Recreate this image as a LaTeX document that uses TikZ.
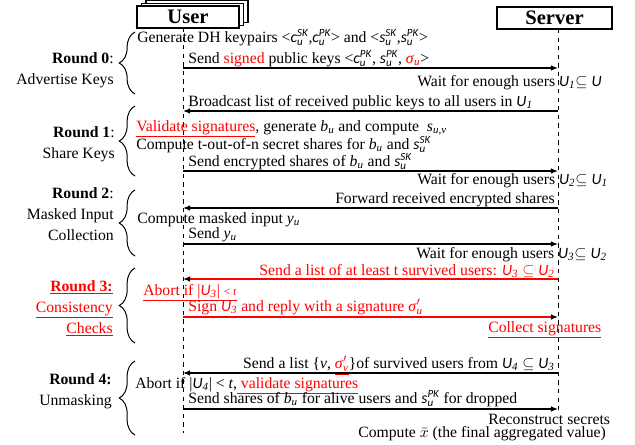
\documentclass[tikz,border=0pt]{standalone}
\usepackage{fontspec}
\usepackage{amsmath}
\setmainfont{Liberation Serif}
\newfontfamily\symfam{Carlito}
\usetikzlibrary{arrows.meta,decorations.pathreplacing}

% symbols of the protocol
\newcommand{\symv}[1]{{\symfam\itshape #1}}
\newcommand{\keyv}[3]{\symv{#1}$_{\text{\symv{#2}}}^{\text{\symv{#3}}}$}
\newcommand{\uset}[1]{\symv{U}$_{\text{\itshape #1}}$}
\newcommand{\ivar}[2]{\textit{#1}$_{\text{\itshape #2}}$}
\newcommand{\redul}[1]{\textcolor{red}{\underline{#1}}}

\begin{document}
\begin{tikzpicture}[x=0.7pt,y=-0.7pt,
    font=\fontsize{11}{14.7}\selectfont,
    txt/.style={inner sep=0pt,anchor=base west},
    txtr/.style={inner sep=0pt,anchor=base east},
    lbl/.style={inner sep=0pt,anchor=base east,align=right},
    party/.style={draw,fill=white,line width=0.8pt,minimum height=15.4pt,inner sep=0pt,
        font=\fontsize{14.4}{16}\selectfont\bfseries},
    life/.style={dashed,line width=0.7pt},
    msg/.style={line width=0.9pt,-{Latex[length=5pt,width=4pt]}},
    redmsg/.style={msg,red,-{Latex[length=5pt,width=4pt,color=black]}},
    brc/.style={decorate,decoration={brace,amplitude=11pt},line width=0.7pt}
]
\useasboundingbox (0,0) rectangle (635,444);

% parties
\foreach \d in {2,1}
    \node[party,minimum width=71.4pt] at (188+\d*4.5,17-\d*2.75) {};
\node[party,minimum width=71.4pt] (user) at (188,17) {User};
\node[party,minimum width=80.5pt] (server) at (554.5,18) {Server};

% lifelines
\coordinate (ut) at (183,28);
\coordinate (ub) at (183,433);
\coordinate (st) at (558,29);
\coordinate (sb) at (558,412);
\draw[life] (ut) -- (ub);
\draw[life] (st) -- (sb);

% rounds (base = last line)
\node[lbl] (r0) at (114,84) {\textbf{Round 0}:\\Advertise Keys};
\node[lbl] (r1) at (115,158) {\textbf{Round 1}:\\Share Keys};
\node[lbl] (r2) at (114,240) {\textbf{Round 2}:\\Masked Input\\Collection};
\node[lbl,red] (r3) at (113,333) {\underline{\textbf{Round 3:}}\\\underline{Consistency}\\\underline{Checks}};
\node[lbl] (r4) at (112,405) {\textbf{Round 4:}\\Unmasking};
\draw[brc] (135,94) -- (135,32);
\draw[brc] (135,176) -- (135,106);
\draw[brc] (135,256) -- (135,190);
\draw[brc] (135,343) -- (135,268);
\draw[brc] (135,435) -- (135,361);

% round 0
\node[txt] (t0) at (137,42) {Generate DH keypairs <\keyv{c}{u}{SK},\keyv{c}{u}{PK}> and <\keyv{s}{u}{SK},\keyv{s}{u}{PK}>};
\node[txt] (t1) at (188,63) {Send \redul{signed} public keys <\keyv{c}{u}{PK}, \keyv{s}{u}{PK}, \redul{\ivar{σ}{u}}>};
\node[txt] (t2) at (417,86) {Wait for enough users \uset{1}$\subseteq$ \symv{U}};
\node[txt] (t3) at (188,106) {Broadcast list of received public keys to all users in \uset{1}};
% round 1
\node[txt] (t4) at (136,131) {\redul{Validate signatures}, generate \ivar{b}{u} and compute \ \ivar{s}{u,v}};
\node[txt] (t5) at (136,149) {Compute t-out-of-n secret shares for \ivar{b}{u} and \keyv{s}{u}{SK}};
\node[txt] (t6) at (188,166) {Send encrypted shares of \ivar{b}{u} and \keyv{s}{u}{SK}};
\node[txt] (t7) at (417,184) {Wait for enough users \uset{2}$\subseteq$ \uset{1}};
% round 2
\node[txtr] (t8) at (555,203) {Forward received encrypted shares};
\node[txt] (t9) at (137,223) {Compute masked input \ivar{y}{u}};
\node[txt] (t10) at (188,238) {Send \ivar{y}{u}};
\node[txt] (t11) at (416,258) {Wait for enough users \uset{3}$\subseteq$ \uset{2}};
% round 3
\node[txtr,red] (t12) at (555,275) {\underline{Send a list of at least t survived users: \uset{3} $\subseteq$ \uset{2}}};
\node[txt,red] (t13) at (143,295) {\underline{Abort if |\uset{3}| {\footnotesize< \textit{t}}}};
\node[txt,red] (t14) at (188,311) {\underline{Sign \uset{3} and reply with a signature \textit{σ}$'_{\text{\itshape u}}$}};
\node[txt,red] (t15) at (488,332) {\underline{Collect signatures}};
% round 4
\node[txtr] (t16) at (555,368) {Send a list \{\textit{v}, \redul{\textit{σ}$'_{\text{\itshape v}}$}\}of survived users from \uset{4} $\subseteq$ \uset{3}};
\node[txt] (t17) at (135,388) {Abort if |\uset{4}| < \textit{t},\redul{ validate signatures}};
\node[txt] (t18) at (188,403) {Send shares of \ivar{b}{u} for alive users and \keyv{s}{u}{PK} for dropped};
\node[txt] (t19) at (488,424) {Reconstruct secrets};
\node[txt] (t20) at (358,437) {Compute $\bar{x}$ (the final aggregated value)};

% messages
\foreach \n/\y in {0/68,1/111,2/171,3/208,4/244,5/279,6/317,7/373,8/409}
    \coordinate (m\n) at (0,\y);
\draw[msg] (ut |- m0) -- (st |- m0);
\draw[msg] (st |- m1) -- (ut |- m1);
\draw[msg] (ut |- m2) -- (st |- m2);
\draw[msg] (st |- m3) -- (ut |- m3);
\draw[msg] (ut |- m4) -- (st |- m4);
\draw[redmsg] (st |- m5) -- (ut |- m5);
\draw[redmsg] (ut |- m6) -- (st |- m6);
\draw[msg] (st |- m7) -- (ut |- m7);
\draw[msg] (ut |- m8) -- (st |- m8);

\end{tikzpicture}
\end{document}
